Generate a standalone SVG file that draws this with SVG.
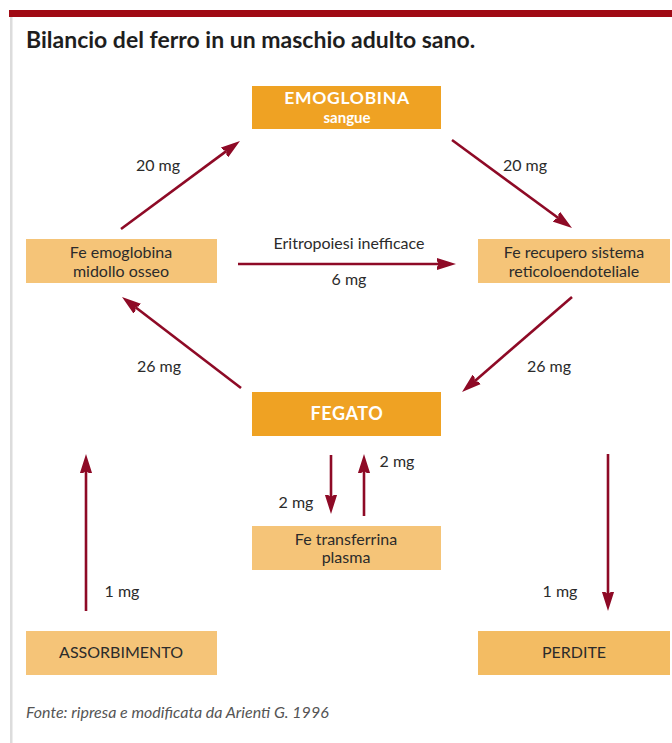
<svg xmlns="http://www.w3.org/2000/svg" width="672" height="743" viewBox="0 0 672 743">
<style>
text{font-family:Lato,"Open Sans","Liberation Sans",sans-serif;fill:#2b2b2b}
.dark{fill:#EFA223}
.light{fill:#F5C478}
.w{fill:#fff;font-weight:bold;text-anchor:middle}
.n{font-size:16px;text-anchor:middle}
.lbl{font-size:16px;text-anchor:middle}
.ar{stroke:#8E0A26;stroke-width:2.6;fill:none;marker-end:url(#ah)}
</style>
<defs>
<marker id="ah" markerUnits="userSpaceOnUse" markerWidth="30" markerHeight="30" viewBox="-2 -10 30 20" refX="0" refY="0" orient="auto">
<path d="M17,0 L-5,-7 L0,0 L-5,7 Z" fill="#8E0A26"/>
</marker>
</defs>
<rect x="0" y="0" width="672" height="743" fill="#fff"/>
<rect x="9" y="10" width="663" height="7" fill="#A00A14"/>
<rect x="10" y="17" width="2.5" height="726" fill="#DCDCDC"/>
<text x="26" y="48" style="font-size:23px;font-weight:bold;fill:#1e1e1e">Bilancio del ferro in un maschio adulto sano.</text>

<g id="emoglobina">
<rect class="dark" x="252" y="86" width="189" height="43"/>
<text class="w" x="347" y="104" style="font-size:17.5px;letter-spacing:0.7px">EMOGLOBINA</text>
<text class="w" x="347" y="123" style="font-size:15px">sangue</text>
</g>
<g id="midollo">
<rect class="light" x="26" y="239" width="191" height="44"/>
<text class="n" x="121" y="258">Fe emoglobina</text>
<text class="n" x="121" y="277">midollo osseo</text>
</g>
<g id="reticolo">
<rect class="light" x="478" y="239" width="192" height="44"/>
<text class="n" x="574" y="258">Fe recupero sistema</text>
<text class="n" x="574" y="277">reticoloendoteliale</text>
</g>
<g id="fegato">
<rect class="dark" x="252" y="392" width="189" height="44"/>
<text class="w" x="347" y="420" style="font-size:18px;letter-spacing:0.6px">FEGATO</text>
</g>
<g id="transferrina">
<rect class="light" x="252" y="526" width="189" height="44"/>
<text class="n" x="346" y="545">Fe transferrina</text>
<text class="n" x="346" y="563">plasma</text>
</g>
<g id="assorbimento">
<rect class="light" x="26" y="631" width="191" height="44"/>
<text class="n" x="121" y="658">ASSORBIMENTO</text>
</g>
<g id="perdite">
<rect x="478" y="631" width="192" height="44" fill="#F3BC63"/>
<text class="n" x="574" y="658">PERDITE</text>
</g>

<g id="connectors">
<line class="ar" x1="121" y1="229" x2="226.3" y2="151.1"/>
<line class="ar" x1="452" y1="140" x2="558.3" y2="218"/>
<line class="ar" x1="238" y1="264" x2="439" y2="264"/>
<line class="ar" x1="572" y1="297" x2="474.9" y2="380.9"/>
<line class="ar" x1="241" y1="388" x2="135.5" y2="307.3"/>
<line class="ar" x1="331" y1="455" x2="331" y2="497"/>
<line class="ar" x1="364" y1="516" x2="364" y2="471"/>
<line class="ar" x1="86" y1="611" x2="86" y2="471"/>
<line class="ar" x1="608" y1="454" x2="608" y2="594"/>
<text class="lbl" x="158" y="171">20 mg</text>
<text class="lbl" x="525" y="171">20 mg</text>
<text class="lbl" x="349" y="249">Eritropoiesi inefficace</text>
<text class="lbl" x="349" y="285">6 mg</text>
<text class="lbl" x="159" y="372">26 mg</text>
<text class="lbl" x="549" y="372">26 mg</text>
<text class="lbl" x="397" y="467">2 mg</text>
<text class="lbl" x="296" y="508">2 mg</text>
<text class="lbl" x="122" y="597">1 mg</text>
<text class="lbl" x="560" y="597">1 mg</text>
</g>

<text x="26" y="718" style="font-size:16px;font-style:italic;fill:#555">Fonte: ripresa e modificata da Arienti G. 1996</text>
</svg>
